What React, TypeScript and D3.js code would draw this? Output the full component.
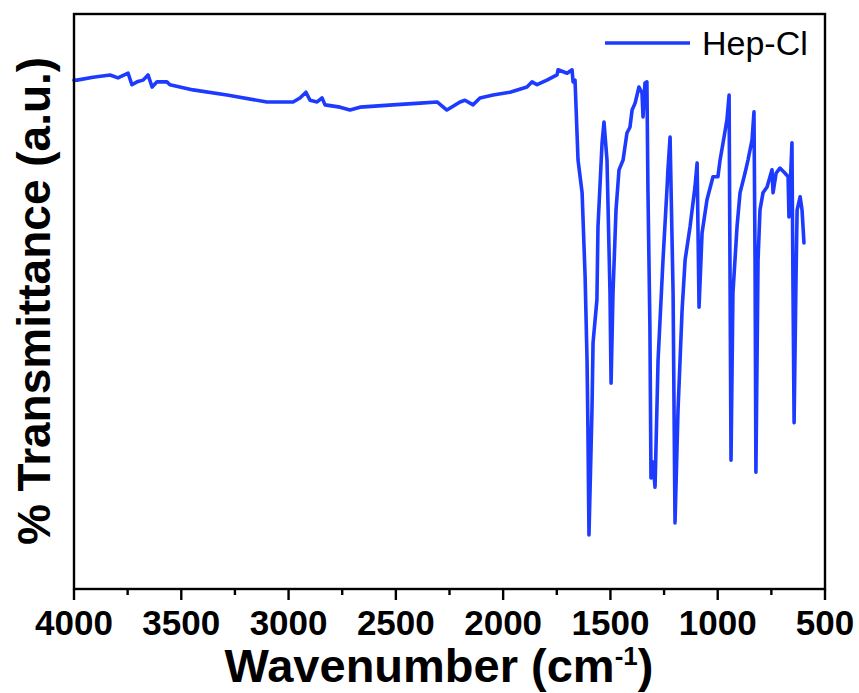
import React from "react";
import * as d3 from "d3";

const wavenumber = [
  4000, 3986, 3911, 3832, 3795, 3748, 3730, 3706, 3678, 3655, 3636, 3613, 3567, 3553, 3445, 3287, 3101,
  2979, 2947, 2919, 2900, 2867, 2844, 2830, 2760, 2714, 2667, 2513, 2387, 2308, 2262, 2201, 2178, 2140,
  2108, 2047, 1968, 1889, 1865, 1842, 1796, 1749, 1744, 1702, 1679, 1674, 1665, 1651, 1632, 1618, 1609,
  1605, 1600, 1586, 1581, 1563, 1558, 1539, 1530, 1516, 1502, 1497, 1488, 1474, 1460, 1441, 1423, 1409,
  1399, 1385, 1367, 1353, 1348, 1339, 1330, 1325, 1316, 1311, 1302, 1292, 1278, 1255, 1236, 1232, 1222,
  1208, 1199, 1185, 1166, 1152, 1129, 1106, 1096, 1087, 1073, 1050, 1022, 999, 989, 975, 957, 947, 943,
  938, 929, 910, 896, 873, 859, 840, 831, 826, 822, 812, 803, 789, 770, 747, 742, 728, 710, 686, 672,
  668, 654, 649, 644, 635, 630, 616, 607, 598,
];
const transmittance = [
  88.5, 88.5, 89.0, 89.4, 88.9, 89.7, 87.7, 88.2, 88.5, 89.4, 87.3, 88.2, 88.2, 87.7, 86.8, 85.9, 84.7,
  84.7, 85.4, 86.4, 85.0, 84.7, 85.4, 84.2, 83.8, 83.3, 83.8, 84.2, 84.5, 84.7, 83.3, 84.7, 85.0, 84.2,
  85.4, 85.9, 86.4, 87.3, 88.2, 87.7, 88.5, 89.4, 90.3, 89.7, 90.3, 88.2, 88.5, 74.6, 68.9, 54.3, 39.8,
  28.2, 9.4, 31.1, 42.8, 50.3, 63.0, 77.6, 81.2, 74.6, 51.5, 35.8, 51.5, 65.9, 72.9, 74.6, 79.3, 80.3,
  83.3, 84.5, 87.3, 86.3, 82.1, 88.0, 88.2, 68.9, 45.6, 19.3, 22.1, 17.7, 39.8, 57.2, 69.9, 72.9, 78.6,
  51.5, 11.5, 31.1, 48.5, 57.2, 63.0, 69.9, 74.1, 49.0, 61.9, 67.7, 71.7, 71.7, 74.6, 77.6, 81.6, 85.9, 57.2,
  22.4, 51.5, 63.0, 68.9, 72.3, 74.6, 78.1, 83.0, 57.2, 20.3, 57.2, 65.9, 68.9, 69.9, 72.9, 68.9, 72.3, 73.2, 72.3, 71.7,
  64.7, 77.6, 51.5, 28.9, 54.3, 65.9, 68.2, 65.9, 60.2,
];
const majorTicks = [4000, 3500, 3000, 2500, 2000, 1500, 1000, 500];
const minorTicks = [3750, 3250, 2750, 2250, 1750, 1250, 750];
const seriesName = "Hep-Cl";

const LEFT = 74, RIGHT = 825, TOP = 14, BOTTOM = 589;
const COLOR = "#1d3bff";
const FONT = "'Liberation Sans', Arial, sans-serif";

export default function App() {
  const x = d3.scaleLinear().domain([4000, 500]).range([LEFT, RIGHT]);
  const y = d3.scaleLinear().domain([0, 100]).range([BOTTOM, TOP]);
  const pts: [number, number][] = wavenumber.map((w, i) => [w, transmittance[i]]);
  const line = d3
    .line<[number, number]>()
    .x((d) => x(d[0]))
    .y((d) => y(d[1]))
    .curve(d3.curveLinear);

  return (
    <svg width={859} height={693} style={{ position: "absolute", left: 0, top: 0 }}>
      <rect width={859} height={693} fill="#fff" />
      <path d={line(pts) || ""} fill="none" stroke={COLOR} strokeWidth={3.6} strokeLinejoin="round" strokeLinecap="round" />
      <rect x={LEFT} y={TOP} width={RIGHT - LEFT} height={BOTTOM - TOP} fill="none" stroke="#000" strokeWidth={2.4} />
      {majorTicks.map((t) => (
        <g key={"M" + t}>
          <line x1={x(t)} x2={x(t)} y1={BOTTOM} y2={BOTTOM + 11} stroke="#000" strokeWidth={2.4} />
          <text x={x(t)} y={635} textAnchor="middle" fontFamily={FONT} fontWeight="bold" fontSize={35} fill="#000">
            {t}
          </text>
        </g>
      ))}
      {minorTicks.map((t) => (
        <line key={"m" + t} x1={x(t)} x2={x(t)} y1={BOTTOM} y2={BOTTOM + 6} stroke="#000" strokeWidth={2.4} />
      ))}
      <text x={439} y={682} textAnchor="middle" fontFamily={FONT} fontWeight="bold" fontSize={47} fill="#000">
        Wavenumber (cm
        <tspan fontSize={26} dy={-17}>-1</tspan>
        <tspan dy={17}>)</tspan>
      </text>
      <text
        transform="translate(50,301) rotate(-90)"
        textAnchor="middle"
        fontFamily={FONT}
        fontWeight="bold"
        fontSize={46}
        fill="#000"
      >
        % Transmittance (a.u.)
      </text>
      <line x1={605} x2={690} y1={43} y2={43} stroke={COLOR} strokeWidth={3.6} />
      <text x={702} y={55} fontFamily={FONT} fontSize={34} fill="#000">
        {seriesName}
      </text>
    </svg>
  );
}
